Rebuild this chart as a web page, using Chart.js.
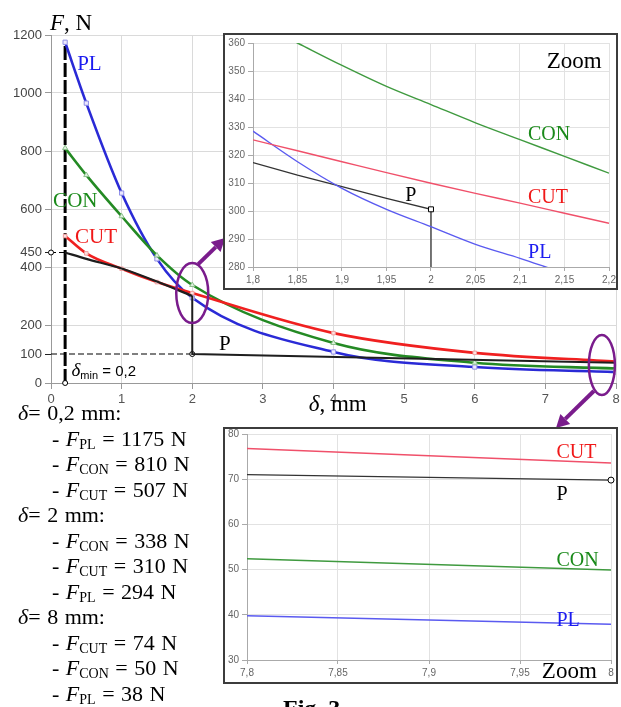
<!DOCTYPE html>
<html>
<head>
<meta charset="utf-8">
<script src="https://cdn.jsdelivr.net/npm/chart.js@4.4.0/dist/chart.umd.min.js"></script>
<style>
  body { margin: 0; background: #fff; }
  #wrap { position: relative; width: 621px; height: 707px; overflow: hidden; }
  #main { position: absolute; left: 0; top: 0; }
  .inset { position: absolute; border: 2px solid #3c3c3c; background: #fff; }
  .inset canvas { display: block; }
  #notes { position: absolute; left: 18px; top: 400px; font: 22px "Liberation Serif", "Times New Roman", serif; line-height: 25.5px; color: #000; white-space: pre; word-spacing: 1px; }
  #notes .ind { padding-left: 34px; }
  #notes sub { font-size: 14px; vertical-align: -3px; line-height: 0; }
  #fig { position: absolute; left: 283px; top: 696px; font: bold 24px "Liberation Serif", serif; line-height: 1; }
</style>
</head>
<body>
<div id="wrap">
  <canvas id="main" width="621" height="707"></canvas>
  <div class="inset" style="left:223px; top:33px;"><canvas id="zoom1" width="391" height="253"></canvas></div>
  <div class="inset" style="left:223px; top:427px;"><canvas id="zoom2" width="391" height="253"></canvas></div>
  <div id="notes"><div><i>δ</i>= 0,2 mm:</div><div class="ind">- <i>F</i><sub>PL</sub> = 1175 N</div><div class="ind">- <i>F</i><sub>CON</sub> = 810 N</div><div class="ind">- <i>F</i><sub>CUT</sub> = 507 N</div><div><i>δ</i>= 2 mm:</div><div class="ind">- <i>F</i><sub>CON</sub> = 338 N</div><div class="ind">- <i>F</i><sub>CUT</sub> = 310 N</div><div class="ind">- <i>F</i><sub>PL</sub> = 294 N</div><div><i>δ</i>= 8 mm:</div><div class="ind">- <i>F</i><sub>CUT</sub> = 74 N</div><div class="ind">- <i>F</i><sub>CON</sub> = 50 N</div><div class="ind">- <i>F</i><sub>PL</sub> = 38 N</div></div>
  <div id="fig">Fig. 3</div>
</div>
<script>
// main chart values
var xMain = [0.2, 0.5, 1, 1.5, 2, 4, 6, 8];
var plMain = [1175, 965, 655, 428, 294, 107, 55, 38];
var conMain = [810, 717, 575, 440, 338, 138, 70, 50];
var cutMain = [507, 447, 394, 348, 310, 172, 104, 74];
var xPCurve = [0.2, 0.5, 1, 1.5, 2];
var pCurve = [450, 428, 395, 350, 300];
var xPStep = [2, 2, 8];
var pStep = [300, 100, 70];
var deltaMin = 0.2;
var yTicksMain = [0, 100, 200, 400, 450, 600, 800, 1000, 1200];

// zoom around 2 mm
var xZoom1 = [1.8, 1.85, 1.9, 1.95, 2, 2.05, 2.1, 2.15, 2.2];
var conZoom1 = [368, 360, 352, 344.5, 338, 331.5, 325.5, 319.5, 313.5];
var cutZoom1 = [325.4, 321.5, 317.6, 313.7, 309.9, 306.3, 302.8, 299.2, 295.6];
var plZoom1 = [328.5, 317.6, 308.1, 300.6, 294.4, 288.1, 283.1, 277.8, 273];
var xPZoom1 = [1.8, 1.85, 1.9, 1.95, 2, 2];
var pZoom1 = [317.3, 312.8, 308.7, 304.5, 300.6, 250];
var xTicksZoom1 = [1.8, 1.85, 1.9, 1.95, 2, 2.05, 2.1, 2.15, 2.2];
var yTicksZoom1 = [280, 290, 300, 310, 320, 330, 340, 350, 360];

// zoom around 8 mm
var xZoom2 = [7.8, 8];
var cutZoom2 = [76.8, 73.6];
var pZoom2 = [71, 69.8];
var conZoom2 = [52.4, 49.9];
var plZoom2 = [39.8, 37.9];
var xTicksZoom2 = [7.8, 7.85, 7.9, 7.95, 8];
var yTicksZoom2 = [30, 40, 50, 60, 70, 80];

var SERIF = '"Liberation Serif", "Times New Roman", serif';
var SANS = '"Liberation Sans", Arial, sans-serif';

function pts(xs, ys) {
  return xs.map(function (x, i) { return { x: x, y: ys[i] }; });
}
function comma(v) {
  return String(+Number(v).toFixed(2)).replace('.', ',');
}

// draws pieces of text one after another
function runs(ctx, x, y, parts) {
  parts.forEach(function (p) {
    ctx.font = p.f;
    ctx.fillStyle = p.c || '#000';
    ctx.fillText(p.t, x, y + (p.dy || 0));
    x += ctx.measureText(p.t).width;
  });
}

function arrow(ctx, x1, y1, x2, y2) {
  var a = Math.atan2(y2 - y1, x2 - x1);
  var hl = 13, hw = 7;
  var bx = x2 - hl * Math.cos(a), by = y2 - hl * Math.sin(a);
  ctx.strokeStyle = '#7a1c8c';
  ctx.fillStyle = '#7a1c8c';
  ctx.lineWidth = 4;
  ctx.beginPath();
  ctx.moveTo(x1, y1);
  ctx.lineTo(bx, by);
  ctx.stroke();
  ctx.beginPath();
  ctx.moveTo(x2, y2);
  ctx.lineTo(bx + hw * Math.sin(a), by - hw * Math.cos(a));
  ctx.lineTo(bx - hw * Math.sin(a), by + hw * Math.cos(a));
  ctx.closePath();
  ctx.fill();
}

var mainDecor = {
  id: 'mainDecor',
  afterDraw: function (chart) {
    var ctx = chart.ctx;
    var sx = chart.scales.x, sy = chart.scales.y;
    var X = function (v) { return sx.getPixelForValue(v); };
    var Y = function (v) { return sy.getPixelForValue(v); };
    ctx.save();
    ctx.textBaseline = 'alphabetic';
    // axis titles
    runs(ctx, X(0) - 1, chart.chartArea.top - 5, [
      { t: 'F', f: 'italic 23px ' + SERIF },
      { t: ', N', f: '23px ' + SERIF }
    ]);
    runs(ctx, X(3.65), chart.chartArea.bottom + 28, [
      { t: 'δ', f: 'italic 23px ' + SERIF },
      { t: ', mm', f: '23px ' + SERIF }
    ]);
    // series labels
    runs(ctx, X(0.37), Y(1079), [{ t: 'PL', f: '21px ' + SERIF, c: '#1c1cf0' }]);
    runs(ctx, X(0.03), Y(607), [{ t: 'CON', f: '21px ' + SERIF, c: '#1a8a1a' }]);
    runs(ctx, X(0.34), Y(483), [{ t: 'CUT', f: '21px ' + SERIF, c: '#f01818' }]);
    runs(ctx, X(2.38), Y(114), [{ t: 'P', f: '21px ' + SERIF }]);
    runs(ctx, X(0.29), Y(24), [
      { t: 'δ', f: 'italic 19px ' + SERIF },
      { t: 'min', f: '11px ' + SANS, dy: 3 },
      { t: ' = 0,2', f: '15px ' + SANS }
    ]);
    // marked regions
    ctx.strokeStyle = '#7a1c8c';
    ctx.lineWidth = 2.5;
    var e1x = X(2), e1y = Y(310);
    ctx.beginPath();
    ctx.ellipse(e1x, e1y, 16, 30, 0, 0, Math.PI * 2);
    ctx.stroke();
    var e2x = X(7.8), e2y = Y(62);
    ctx.beginPath();
    ctx.ellipse(e2x, e2y, 13, 30, 0, 0, Math.PI * 2);
    ctx.stroke();
    arrow(ctx, e1x + 6, e1y - 29, 225, 238);
    arrow(ctx, e2x - 8, e2y + 26, 556, 428);
    ctx.restore();
  }
};

new Chart(document.getElementById('main'), {
  type: 'line',
  data: {
    datasets: [
      { data: pts(xPStep, pStep), borderColor: '#1e1e1e', borderWidth: 2, tension: 0, pointRadius: 0 },
      { data: pts(xPCurve, pCurve), borderColor: '#1e1e1e', borderWidth: 2.2, cubicInterpolationMode: 'monotone', pointRadius: 0 },
      { data: pts(xMain, cutMain), borderColor: '#f02020', borderWidth: 2.6, cubicInterpolationMode: 'monotone',
        pointStyle: 'rect', pointRadius: 2.5, pointBackgroundColor: '#fde0e0', pointBorderColor: '#f0a0a0', pointBorderWidth: 1 },
      { data: pts(xMain, conMain), borderColor: '#248a24', borderWidth: 2.6, cubicInterpolationMode: 'monotone',
        pointStyle: 'triangle', pointRadius: 3, pointBackgroundColor: '#dff2df', pointBorderColor: '#8cc08c', pointBorderWidth: 1 },
      { data: pts(xMain, plMain), borderColor: '#2a2ad6', borderWidth: 2.6, cubicInterpolationMode: 'monotone',
        pointStyle: 'rect', pointRadius: 3, pointBackgroundColor: '#ece8ff', pointBorderColor: '#8f8fe6', pointBorderWidth: 1 },
      { data: pts([deltaMin, deltaMin], [0, plMain[0]]), borderColor: '#000', borderWidth: 3, borderDash: [14, 3],
        pointRadius: [2.5, 0], pointBackgroundColor: '#fff', pointBorderColor: '#000', pointBorderWidth: 1, clip: false },
      { data: pts([0, deltaMin], [pCurve[0], pCurve[0]]), borderColor: '#000', borderWidth: 1.2, borderDash: [5, 3],
        pointRadius: [2.5, 0], pointBackgroundColor: '#fff', pointBorderColor: '#000', pointBorderWidth: 1, clip: false },
      { data: pts([0, xPStep[1]], [pStep[1], pStep[1]]), borderColor: '#000', borderWidth: 1.2, borderDash: [6, 3],
        pointRadius: [0, 2.5], pointBackgroundColor: '#fff', pointBorderColor: '#000', pointBorderWidth: 1, clip: false }
    ]
  },
  options: {
    responsive: false,
    animation: false,
    layout: { padding: { top: 35, right: 2, left: 0, bottom: 0 } },
    plugins: { legend: { display: false }, tooltip: { enabled: false } },
    scales: {
      x: {
        type: 'linear', min: 0, max: 8,
        grid: { color: '#dadada', tickColor: '#999', tickLength: 6 },
        border: { color: '#999' },
        ticks: { stepSize: 1, padding: 3, color: '#555', font: { family: SANS, size: 13 },
          callback: function (v) { return String(v); } },
        afterFit: function (s) { s.height = 324; s.paddingLeft = 0; s.paddingRight = 0; }
      },
      y: {
        type: 'linear', min: 0, max: 1200,
        afterBuildTicks: function (s) { s.ticks = yTicksMain.map(function (v) { return { value: v }; }); },
        grid: {
          color: function (c) { return (c.tick && (c.tick.value === 100 || c.tick.value === 450)) ? 'rgba(0,0,0,0)' : '#dadada'; },
          tickColor: function (c) { return (c.tick && (c.tick.value === 100 || c.tick.value === 450)) ? '#222' : '#999'; },
          tickLength: 6
        },
        border: { color: '#999' },
        ticks: { padding: 3, color: '#444', font: { family: SANS, size: 13 }, autoSkip: false,
          callback: function (v) { return String(v); } },
        afterFit: function (s) { s.width = 51; s.paddingTop = 0; s.paddingBottom = 0; }
      }
    }
  },
  plugins: [mainDecor]
});

function insetScales(xr, yr, xt, yt, yw, xh) {
  return {
    x: {
      type: 'linear', min: xr[0], max: xr[1],
      afterBuildTicks: function (s) { s.ticks = xt.map(function (v) { return { value: v }; }); },
      grid: { color: '#e2e2e2', tickColor: '#aaa', tickLength: 4 },
      border: { color: '#aaa' },
      ticks: { padding: 3, color: '#666', font: { family: SANS, size: 10 }, autoSkip: false, maxRotation: 0,
        callback: function (v) { return comma(v); } },
      afterFit: function (s) { s.height = xh; s.paddingLeft = 0; s.paddingRight = 0; }
    },
    y: {
      type: 'linear', min: yr[0], max: yr[1],
      afterBuildTicks: function (s) { s.ticks = yt.map(function (v) { return { value: v }; }); },
      grid: { color: '#e2e2e2', tickColor: '#aaa', tickLength: 5 },
      border: { color: '#aaa' },
      ticks: { padding: 3, color: '#666', font: { family: SANS, size: 10 }, autoSkip: false,
        callback: function (v) { return comma(v); } },
      afterFit: function (s) { s.width = yw; s.paddingTop = 0; s.paddingBottom = 0; }
    }
  };
}

function insetLabels(list) {
  return {
    id: 'insetLabels',
    afterDraw: function (chart) {
      var ctx = chart.ctx;
      ctx.save();
      ctx.textBaseline = 'alphabetic';
      list.forEach(function (l) {
        ctx.font = l.size + 'px ' + SERIF;
        ctx.fillStyle = l.c;
        ctx.fillText(l.t, chart.scales.x.getPixelForValue(l.x), chart.scales.y.getPixelForValue(l.y));
      });
      ctx.restore();
    }
  };
}

new Chart(document.getElementById('zoom1'), {
  type: 'line',
  data: {
    datasets: [
      { data: pts(xZoom1, conZoom1), borderColor: '#3f9a3f', borderWidth: 1.4, cubicInterpolationMode: 'monotone', pointRadius: 0 },
      { data: pts(xZoom1, cutZoom1), borderColor: '#f0506a', borderWidth: 1.4, cubicInterpolationMode: 'monotone', pointRadius: 0 },
      { data: pts(xZoom1, plZoom1), borderColor: '#5a5af0', borderWidth: 1.4, cubicInterpolationMode: 'monotone', pointRadius: 0 },
      { data: pts(xPZoom1, pZoom1), borderColor: '#333', borderWidth: 1.3, tension: 0,
        pointStyle: 'rect', pointRadius: [0, 0, 0, 0, 3.5, 0], pointBackgroundColor: '#fff', pointBorderColor: '#000', pointBorderWidth: 1 }
    ]
  },
  options: {
    responsive: false, animation: false,
    layout: { padding: { top: 8, right: 7, left: 0, bottom: 0 } },
    plugins: { legend: { display: false }, tooltip: { enabled: false } },
    scales: insetScales([1.8, 2.2], [280, 360], xTicksZoom1, yTicksZoom1, 28, 21)
  },
  plugins: [insetLabels([
    { t: 'Zoom', x: 2.130, y: 351.1, size: 23, c: '#000' },
    { t: 'CON', x: 2.109, y: 325.4, size: 20, c: '#1a8a1a' },
    { t: 'CUT', x: 2.109, y: 302.9, size: 20, c: '#f01818' },
    { t: 'PL', x: 2.109, y: 283.2, size: 20, c: '#1c1cf0' },
    { t: 'P', x: 1.971, y: 303.6, size: 20, c: '#000' }
  ])]
});

new Chart(document.getElementById('zoom2'), {
  type: 'line',
  data: {
    datasets: [
      { data: pts(xZoom2, cutZoom2), borderColor: '#f0506a', borderWidth: 1.4, pointRadius: 0 },
      { data: pts(xZoom2, pZoom2), borderColor: '#333', borderWidth: 1.3,
        pointRadius: [0, 3], pointBackgroundColor: '#fff', pointBorderColor: '#000', pointBorderWidth: 1, clip: false },
      { data: pts(xZoom2, conZoom2), borderColor: '#3f9a3f', borderWidth: 1.4, pointRadius: 0 },
      { data: pts(xZoom2, plZoom2), borderColor: '#5a5af0', borderWidth: 1.4, pointRadius: 0 }
    ]
  },
  options: {
    responsive: false, animation: false,
    layout: { padding: { top: 2, right: 3, left: 0, bottom: 0 } },
    plugins: { legend: { display: false }, tooltip: { enabled: false } },
    scales: insetScales([7.8, 8], [30, 80], xTicksZoom2, yTicksZoom2, 22, 22)
  },
  plugins: [insetLabels([
    { t: 'CUT', x: 7.970, y: 74.8, size: 20, c: '#f01818' },
    { t: 'P', x: 7.970, y: 65.4, size: 20, c: '#000' },
    { t: 'CON', x: 7.970, y: 50.7, size: 20, c: '#1a8a1a' },
    { t: 'PL', x: 7.970, y: 37.6, size: 20, c: '#1c1cf0' },
    { t: 'Zoom', x: 7.962, y: 26, size: 23, c: '#000' }
  ])]
});
</script>
</body>
</html>
